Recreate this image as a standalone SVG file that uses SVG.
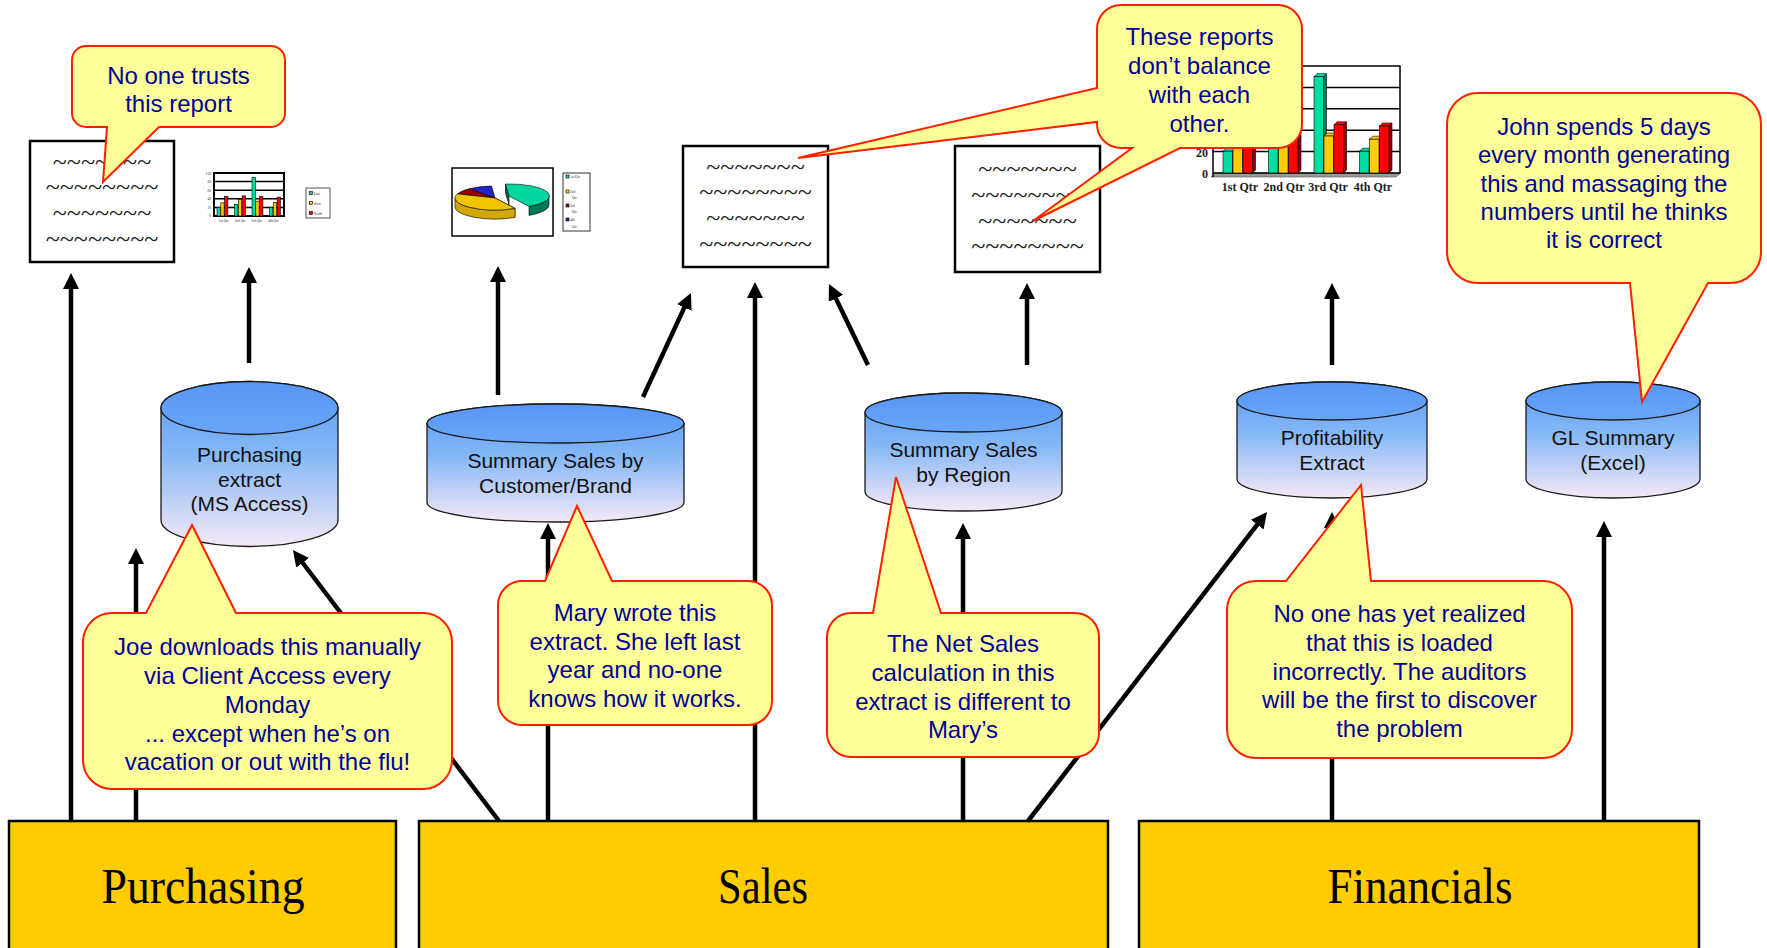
<svg xmlns="http://www.w3.org/2000/svg" width="1767" height="948" viewBox="0 0 1767 948">
  <defs>
    <linearGradient id="dbBody" x1="0" y1="0" x2="0" y2="1">
      <stop offset="0" stop-color="#5A99F6"/>
      <stop offset="0.45" stop-color="#86B8F6"/>
      <stop offset="1" stop-color="#F6E9F6"/>
    </linearGradient>
    <linearGradient id="dbTop" x1="0" y1="0" x2="0" y2="1">
      <stop offset="0" stop-color="#5896F5"/>
      <stop offset="1" stop-color="#69A6F9"/>
    </linearGradient>
    <marker id="ah" viewBox="0 0 16 16" refX="6" refY="8" markerWidth="16" markerHeight="16" orient="auto" markerUnits="userSpaceOnUse">
      <path d="M0,0 L16,8 L0,16 Z" fill="#000"/>
    </marker>
    <style>
      .sys { fill: #FFCC00; stroke: #000; stroke-width: 2.5; }
      .sysLabel { font-family: "Liberation Serif", "Times New Roman", serif; font-size: 50px; fill: #000; text-anchor: middle; }
      .doc { fill: #fff; stroke: #000; stroke-width: 2.5; }
      .wave { font-family: "Liberation Serif", serif; font-size: 26px; fill: #222; text-anchor: middle; }
      .db { fill: url(#dbBody); stroke: #1a1a1a; stroke-width: 1.3; }
      .dbTop { fill: url(#dbTop); stroke: #1a1a1a; stroke-width: 1.3; }
      .dbLabel { font-family: "Liberation Sans", Arial, sans-serif; font-size: 21px; fill: #111; text-anchor: middle; }
      .note { fill: #FFFF99; stroke: #FF2000; stroke-width: 2; stroke-linejoin: miter; }
      .noteText { font-family: "Liberation Sans", Arial, sans-serif; font-size: 24px; fill: #000099; text-anchor: middle; }
      .link { stroke: #000; stroke-width: 4.5; fill: none; marker-end: url(#ah); }
      .grid { stroke: #000; stroke-width: 1.5; fill: none; }
      .tiny { font-family: "Liberation Serif", serif; font-size: 3.6px; fill: #333; }
      .axis { font-family: "Liberation Serif", serif; font-size: 12px; font-weight: bold; fill: #222; }
      .east { fill: #00DDA2; stroke: #000; stroke-width: 0.6; }
      .eastSide { fill: #007A58; stroke: #000; stroke-width: 0.6; }
      .west { fill: #FFCC00; stroke: #000; stroke-width: 0.6; }
      .westSide { fill: #A88400; stroke: #000; stroke-width: 0.6; }
      .north { fill: #FF0000; stroke: #000; stroke-width: 0.6; }
      .northSide { fill: #8C0000; stroke: #000; stroke-width: 0.6; }
    </style>
  </defs>

  <rect width="1767" height="948" fill="#fff"/>

  <!-- source systems along the bottom -->
  <g id="sys-purchasing">
    <rect class="sys" x="9" y="821" width="387" height="140"/>
    <text class="sysLabel" x="203" y="903" textLength="203" lengthAdjust="spacingAndGlyphs">Purchasing</text>
  </g>
  <g id="sys-sales">
    <rect class="sys" x="419" y="821" width="689" height="140"/>
    <text class="sysLabel" x="763" y="903" textLength="90" lengthAdjust="spacingAndGlyphs">Sales</text>
  </g>
  <g id="sys-financials">
    <rect class="sys" x="1139" y="821" width="560" height="140"/>
    <text class="sysLabel" x="1420" y="903" textLength="185" lengthAdjust="spacingAndGlyphs">Financials</text>
  </g>

  <!-- data flows -->
  <g id="connectors">
    <line class="link" x1="71" y1="821" x2="71" y2="283"/>
    <line class="link" x1="136" y1="821" x2="136" y2="558"/>
    <line class="link" x1="249" y1="363" x2="249" y2="277"/>
    <line class="link" x1="499" y1="821" x2="299" y2="558"/>
    <line class="link" x1="548" y1="821" x2="548" y2="533"/>
    <line class="link" x1="498" y1="395" x2="498" y2="276"/>
    <line class="link" x1="643" y1="397" x2="686.8" y2="302.1"/>
    <line class="link" x1="755" y1="821" x2="755" y2="292"/>
    <line class="link" x1="868" y1="365" x2="833.3" y2="293"/>
    <line class="link" x1="1027" y1="365" x2="1027" y2="293"/>
    <line class="link" x1="963" y1="821" x2="963" y2="533"/>
    <line class="link" x1="1028" y1="821" x2="1260.9" y2="519.9"/>
    <line class="link" x1="1332" y1="821" x2="1332" y2="522"/>
    <line class="link" x1="1332" y1="365" x2="1332" y2="293"/>
    <line class="link" x1="1604" y1="821" x2="1604" y2="531"/>
  </g>

  <!-- purchasing report -->
  <g id="report-purchasing">
    <rect class="doc" x="30" y="141" width="144" height="121"/>
    <text class="wave"><tspan x="102" y="170">~~~~~~~</tspan><tspan x="102" y="195">~~~~~~~~</tspan><tspan x="102" y="221">~~~~~~~</tspan><tspan x="102" y="247">~~~~~~~~</tspan></text>
  </g>

  <!-- purchasing chart -->
  <g id="chart-purchasing">
    <rect x="214" y="173" width="70" height="43" fill="#fff" stroke="#000" stroke-width="2"/>
    <path class="grid" d="M214,181.6 H284 M214,190.2 H284 M214,198.8 H284 M214,207.4 H284" stroke-width="0.8"/>
    <rect class="east" x="217" y="207.2" width="3.3" height="8.8"/>
    <rect class="west" x="220.8" y="202.8" width="3.3" height="13.2"/>
    <rect class="north" x="224.6" y="196.3" width="3.3" height="19.7"/>
    <rect class="east" x="234.5" y="204.2" width="3.3" height="11.8"/>
    <rect class="west" x="238.3" y="199.4" width="3.3" height="16.6"/>
    <rect class="north" x="242.1" y="195.8" width="3.3" height="20.2"/>
    <rect class="east" x="252" y="177.3" width="3.3" height="38.7"/>
    <rect class="west" x="255.8" y="201.1" width="3.3" height="14.9"/>
    <rect class="north" x="259.6" y="196.6" width="3.3" height="19.4"/>
    <rect class="east" x="269.5" y="207.2" width="3.3" height="8.8"/>
    <rect class="west" x="273.3" y="202.4" width="3.3" height="13.6"/>
    <rect class="north" x="277.1" y="197.1" width="3.3" height="18.9"/>
    <g class="tiny" text-anchor="end">
      <text x="211" y="175">100</text>
      <text x="211" y="183">80</text>
      <text x="211" y="192">60</text>
      <text x="211" y="200">40</text>
      <text x="211" y="209">20</text>
      <text x="211" y="217">0</text>
    </g>
    <g class="tiny" text-anchor="middle">
      <text x="223.5" y="222">1st Qtr</text>
      <text x="240" y="222">2nd Qtr</text>
      <text x="256.5" y="222">3rd Qtr</text>
      <text x="273.5" y="222">4th Qtr</text>
    </g>
    <rect x="306" y="188" width="24" height="30" fill="#fff" stroke="#555" stroke-width="1"/>
    <rect class="east" x="309.5" y="191.5" width="3" height="3"/>
    <rect class="west" x="309.5" y="201.5" width="3" height="3"/>
    <rect class="north" x="309.5" y="211.5" width="3" height="3"/>
    <text class="tiny" x="313.5" y="194.5">East</text>
    <text class="tiny" x="313.5" y="204.5">West</text>
    <text class="tiny" x="313.5" y="214.5">North</text>
  </g>

  <!-- pie chart -->
  <g id="chart-pie">
    <rect x="452" y="168" width="101" height="68" fill="#fff" stroke="#000" stroke-width="1.5"/>
    <path d="M495,198 L469.3,188.8 A40 12 0 0 1 491.5,186 Z" fill="#2424C8" stroke="#000" stroke-width="0.6"/>
    <path d="M495,198 L457.4,193.9 A40 12 0 0 1 469.3,188.8 Z" fill="#990000" stroke="#000" stroke-width="0.6"/>
    <path d="M495,198 L515,208.4 V217.4 L495,207 Z" fill="#A88400" stroke="#000" stroke-width="0.6"/>
    <path d="M515,208.4 A40 12 0 0 1 455,198 V207 A40 12 0 0 0 515,217.4 Z" fill="#D1A800" stroke="#000" stroke-width="0.6"/>
    <path d="M495,198 L515,208.4 A40 12 0 0 1 457.4,193.9 Z" fill="#F2C400" stroke="#000" stroke-width="0.6"/>
    <path d="M509,196 L505.5,184 V193 L509,205 Z" fill="#006B4E" stroke="#000" stroke-width="0.6"/>
    <path d="M549,196 A40 12 0 0 1 529,206.4 V215.4 A40 12 0 0 0 549,205 Z" fill="#007A58" stroke="#000" stroke-width="0.6"/>
    <path d="M509,196 L505.5,184 A40 12 0 0 1 529,206.4 Z" fill="#00D69E" stroke="#000" stroke-width="0.6"/>
    <rect x="563" y="173" width="27" height="58" fill="#fff" stroke="#333" stroke-width="1"/>
    <rect class="east" x="566" y="175" width="3" height="3"/>
    <rect class="west" x="566" y="190" width="3" height="3"/>
    <rect x="566" y="204" width="3" height="3" fill="#990000" stroke="#000" stroke-width="0.6"/>
    <rect x="566" y="218" width="3" height="3" fill="#2424C8" stroke="#000" stroke-width="0.6"/>
    <text class="tiny" x="570" y="178">1st Qtr</text>
    <text class="tiny" x="570" y="193">2nd</text>
    <text class="tiny" x="572" y="199">Qtr</text>
    <text class="tiny" x="570" y="207">3rd</text>
    <text class="tiny" x="572" y="213">Qtr</text>
    <text class="tiny" x="570" y="221">4th</text>
    <text class="tiny" x="572" y="228">Qtr</text>
  </g>

  <!-- sales reports -->
  <g id="report-sales">
    <rect class="doc" x="683" y="146" width="145" height="121"/>
    <text class="wave"><tspan x="755.5" y="175">~~~~~~~</tspan><tspan x="755.5" y="200">~~~~~~~~</tspan><tspan x="755.5" y="226">~~~~~~~</tspan><tspan x="755.5" y="252">~~~~~~~~</tspan></text>
  </g>
  <g id="report-region">
    <rect class="doc" x="955" y="146" width="145" height="126"/>
    <text class="wave"><tspan x="1027.5" y="177">~~~~~~~</tspan><tspan x="1027.5" y="203">~~~~~~~~</tspan><tspan x="1027.5" y="229">~~~~~~~</tspan><tspan x="1027.5" y="254">~~~~~~~~</tspan></text>
  </g>

  <!-- profitability chart -->
  <g id="chart-profitability">
    <polygon points="1211,177 1396,177 1401,173 1216,173" fill="#999" stroke="#555" stroke-width="0.6"/>
    <path class="grid" d="M1180,66 H1400 V173 M1213,87.4 H1400 M1213,108.8 H1400 M1213,130.2 H1400 M1213,151.6 H1400 M1213,173 H1400 M1213,66 V177"/>
    <!-- 1st Qtr -->
    <polygon class="eastSide" points="1232.5,151.2 1235.5,148.2 1235.5,170 1232.5,173"/>
    <polygon class="east" points="1223,151.2 1226,148.2 1235.5,148.2 1232.5,151.2"/>
    <rect class="east" x="1223" y="151.2" width="9.5" height="21.8"/>
    <polygon class="westSide" points="1242.5,140.3 1245.5,137.3 1245.5,170 1242.5,173"/>
    <polygon class="west" points="1233,140.3 1236,137.3 1245.5,137.3 1242.5,140.3"/>
    <rect class="west" x="1233" y="140.3" width="9.5" height="32.7"/>
    <polygon class="northSide" points="1252.5,123.9 1255.5,120.9 1255.5,170 1252.5,173"/>
    <polygon class="north" points="1243,123.9 1246,120.9 1255.5,120.9 1252.5,123.9"/>
    <rect class="north" x="1243" y="123.9" width="9.5" height="49.1"/>
    <!-- 2nd Qtr -->
    <polygon class="eastSide" points="1278,143.7 1281,140.7 1281,170 1278,173"/>
    <polygon class="east" points="1268.5,143.7 1271.5,140.7 1281,140.7 1278,143.7"/>
    <rect class="east" x="1268.5" y="143.7" width="9.5" height="29.3"/>
    <polygon class="westSide" points="1288,131.7 1291,128.7 1291,170 1288,173"/>
    <polygon class="west" points="1278.5,131.7 1281.5,128.7 1291,128.7 1288,131.7"/>
    <rect class="west" x="1278.5" y="131.7" width="9.5" height="41.3"/>
    <polygon class="northSide" points="1298,122.8 1301,119.8 1301,170 1298,173"/>
    <polygon class="north" points="1288.5,122.8 1291.5,119.8 1301,119.8 1298,122.8"/>
    <rect class="north" x="1288.5" y="122.8" width="9.5" height="50.2"/>
    <!-- 3rd Qtr -->
    <polygon class="eastSide" points="1323.5,76.7 1326.5,73.7 1326.5,170 1323.5,173"/>
    <polygon class="east" points="1314,76.7 1317,73.7 1326.5,73.7 1323.5,76.7"/>
    <rect class="east" x="1314" y="76.7" width="9.5" height="96.3"/>
    <polygon class="westSide" points="1333.5,136 1336.5,133 1336.5,170 1333.5,173"/>
    <polygon class="west" points="1324,136 1327,133 1336.5,133 1333.5,136"/>
    <rect class="west" x="1324" y="136" width="9.5" height="37"/>
    <polygon class="northSide" points="1343.5,124.8 1346.5,121.8 1346.5,170 1343.5,173"/>
    <polygon class="north" points="1334,124.8 1337,121.8 1346.5,121.8 1343.5,124.8"/>
    <rect class="north" x="1334" y="124.8" width="9.5" height="48.2"/>
    <!-- 4th Qtr -->
    <polygon class="eastSide" points="1369,151.2 1372,148.2 1372,170 1369,173"/>
    <polygon class="east" points="1359.5,151.2 1362.5,148.2 1372,148.2 1369,151.2"/>
    <rect class="east" x="1359.5" y="151.2" width="9.5" height="21.8"/>
    <polygon class="westSide" points="1379,139.2 1382,136.2 1382,170 1379,173"/>
    <polygon class="west" points="1369.5,139.2 1372.5,136.2 1382,136.2 1379,139.2"/>
    <rect class="west" x="1369.5" y="139.2" width="9.5" height="33.8"/>
    <polygon class="northSide" points="1389,126 1392,123 1392,170 1389,173"/>
    <polygon class="north" points="1379.5,126 1382.5,123 1392,123 1389,126"/>
    <rect class="north" x="1379.5" y="126" width="9.5" height="47"/>
    <g class="axis" text-anchor="end">
      <text x="1208" y="157">20</text>
      <text x="1208" y="178">0</text>
    </g>
    <g class="axis" text-anchor="middle" font-weight="normal">
      <text x="1240" y="191">1st Qtr</text>
      <text x="1284" y="191">2nd Qtr</text>
      <text x="1328" y="191">3rd Qtr</text>
      <text x="1373" y="191">4th Qtr</text>
    </g>
  </g>

  <!-- extract databases -->
  <g id="db-purchasing">
    <path class="db" d="M161,408 V520 A88.5 26.5 0 0 0 338,520 V408 A88.5 26.5 0 0 0 161,408 Z"/>
    <ellipse class="dbTop" cx="249.5" cy="408" rx="88.5" ry="26.5"/>
    <text class="dbLabel" x="249.5" y="462">Purchasing</text>
    <text class="dbLabel" x="249.5" y="486.5">extract</text>
    <text class="dbLabel" x="249.5" y="511">(MS Access)</text>
  </g>
  <g id="db-sales-customer">
    <path class="db" d="M427,423.5 V502.5 A128.5 19.5 0 0 0 684,502.5 V423.5 A128.5 19.5 0 0 0 427,423.5 Z"/>
    <ellipse class="dbTop" cx="555.5" cy="423.5" rx="128.5" ry="19.5"/>
    <text class="dbLabel" x="555.5" y="468">Summary Sales by</text>
    <text class="dbLabel" x="555.5" y="493">Customer/Brand</text>
  </g>
  <g id="db-sales-region">
    <path class="db" d="M865,412.5 V491.5 A98.5 19.5 0 0 0 1062,491.5 V412.5 A98.5 19.5 0 0 0 865,412.5 Z"/>
    <ellipse class="dbTop" cx="963.5" cy="412.5" rx="98.5" ry="19.5"/>
    <text class="dbLabel" x="963.5" y="457">Summary Sales</text>
    <text class="dbLabel" x="963.5" y="482">by Region</text>
  </g>
  <g id="db-profitability">
    <path class="db" d="M1237,401 V479 A95 19 0 0 0 1427,479 V401 A95 19 0 0 0 1237,401 Z"/>
    <ellipse class="dbTop" cx="1332" cy="401" rx="95" ry="19"/>
    <text class="dbLabel" x="1332" y="445">Profitability</text>
    <text class="dbLabel" x="1332" y="470">Extract</text>
  </g>
  <g id="db-gl">
    <path class="db" d="M1526,401 V479 A87 19 0 0 0 1700,479 V401 A87 19 0 0 0 1526,401 Z"/>
    <ellipse class="dbTop" cx="1613" cy="401" rx="87" ry="19"/>
    <text class="dbLabel" x="1613" y="445">GL Summary</text>
    <text class="dbLabel" x="1613" y="470">(Excel)</text>
  </g>

  <!-- remarks -->
  <g id="note-trust">
    <path class="note" d="M86,46 H271 A14 14 0 0 1 285,60 V113 A14 14 0 0 1 271,127 H159 L103,182 L107,127 H86 A14 14 0 0 1 72,113 V60 A14 14 0 0 1 86,46 Z"/>
    <text class="noteText" x="178.5" y="84">No one trusts</text>
    <text class="noteText" x="178.5" y="112">this report</text>
  </g>
  <g id="note-balance">
    <path class="note" d="M1121,5 H1278 A24 24 0 0 1 1302,29 V124 A24 24 0 0 1 1278,148 H1180 L1033,221 L1132,148 H1121 A24 24 0 0 1 1097,124 V122 L798,158 L1097,88 V29 A24 24 0 0 1 1121,5 Z"/>
    <text class="noteText" x="1199.5" y="45">These reports</text>
    <text class="noteText" x="1199.5" y="74">don’t balance</text>
    <text class="noteText" x="1199.5" y="103">with each</text>
    <text class="noteText" x="1199.5" y="132">other.</text>
  </g>
  <g id="note-joe">
    <path class="note" d="M112,613 H146 L192,525 L236,613 H423 A29 29 0 0 1 452,642 V760 A29 29 0 0 1 423,789 H112 A29 29 0 0 1 83,760 V642 A29 29 0 0 1 112,613 Z"/>
    <text class="noteText" x="267.5" y="655">Joe downloads this manually</text>
    <text class="noteText" x="267.5" y="684">via Client Access every</text>
    <text class="noteText" x="267.5" y="713">Monday</text>
    <text class="noteText" x="267.5" y="742">... except when he’s on</text>
    <text class="noteText" x="267.5" y="770">vacation or out with the flu!</text>
  </g>
  <g id="note-mary">
    <path class="note" d="M522,581 H545 L577,506 L612,581 H748 A24 24 0 0 1 772,605 V701 A24 24 0 0 1 748,725 H522 A24 24 0 0 1 498,701 V605 A24 24 0 0 1 522,581 Z"/>
    <text class="noteText" x="635" y="621">Mary wrote this</text>
    <text class="noteText" x="635" y="650">extract. She left last</text>
    <text class="noteText" x="635" y="678">year and no-one</text>
    <text class="noteText" x="635" y="707">knows how it works.</text>
  </g>
  <g id="note-netsales">
    <path class="note" d="M851,613 H873 L896,477 L941,613 H1075 A24 24 0 0 1 1099,637 V733 A24 24 0 0 1 1075,757 H851 A24 24 0 0 1 827,733 V637 A24 24 0 0 1 851,613 Z"/>
    <text class="noteText" x="963" y="652">The Net Sales</text>
    <text class="noteText" x="963" y="681">calculation in this</text>
    <text class="noteText" x="963" y="710">extract is different to</text>
    <text class="noteText" x="963" y="738">Mary’s</text>
  </g>
  <g id="note-auditors">
    <path class="note" d="M1256,581 H1286 L1361,485 L1371,581 H1543 A29 29 0 0 1 1572,610 V729 A29 29 0 0 1 1543,758 H1256 A29 29 0 0 1 1227,729 V610 A29 29 0 0 1 1256,581 Z"/>
    <text class="noteText" x="1399.5" y="622">No one has yet realized</text>
    <text class="noteText" x="1399.5" y="651">that this is loaded</text>
    <text class="noteText" x="1399.5" y="680">incorrectly. The auditors</text>
    <text class="noteText" x="1399.5" y="708">will be the first to discover</text>
    <text class="noteText" x="1399.5" y="737">the problem</text>
  </g>
  <g id="note-john">
    <path class="note" d="M1478,93 H1730 A31 31 0 0 1 1761,124 V252 A31 31 0 0 1 1730,283 H1708 L1642,402 L1630,283 H1478 A31 31 0 0 1 1447,252 V124 A31 31 0 0 1 1478,93 Z"/>
    <text class="noteText" x="1604" y="135">John spends 5 days</text>
    <text class="noteText" x="1604" y="163">every month generating</text>
    <text class="noteText" x="1604" y="192">this and massaging the</text>
    <text class="noteText" x="1604" y="220">numbers until he thinks</text>
    <text class="noteText" x="1604" y="248">it is correct</text>
  </g>
</svg>
